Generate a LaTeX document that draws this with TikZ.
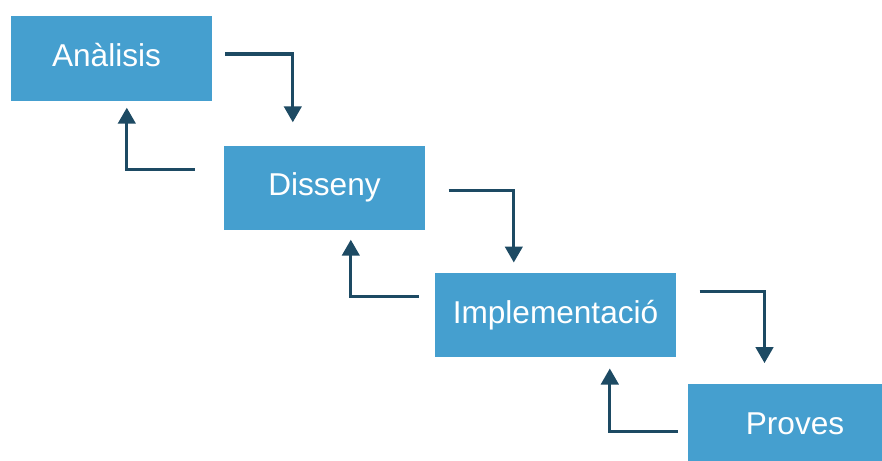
\documentclass[tikz,border=0pt]{standalone}
\usepackage{fontspec}
\setmainfont{Liberation Sans}
\usetikzlibrary{arrows.meta}
\usetikzlibrary{positioning}

\definecolor{fase}{RGB}{69,159,207}
\definecolor{fletxa}{RGB}{29,74,99}

\begin{document}
\begin{tikzpicture}[x=1pt,y=1pt,
        fasebox/.style={rectangle,fill=fase,text=white,inner sep=0pt,
            minimum width=201pt,minimum height=84pt,
            font=\fontsize{31.6}{36}\selectfont,text height=23pt,text depth=7pt},
        flux/.style={draw=fletxa,line width=3pt,
            arrows = -{Triangle[width=17.5pt,length=16pt,fill=fletxa]}}]

            % \draw [help lines] (0,0) grid (882,-460);
            \useasboundingbox (0,0) rectangle (882,-460);

            \path   (111.5,-58.5) node (an) [fasebox] {\hspace*{-10pt}Anàlisis}
                    (324.5,-187.5) node (di) [fasebox] {Disseny}
                    (555.5,-315) node (im) [fasebox,minimum width=241pt] {Implementació}
                    (795,-426) node (pr) [fasebox,minimum width=214pt] {Proves};

            \draw[flux] ([xshift=13pt,yshift=4.5pt]an.east) -| ([xshift=69pt,yshift=23pt]di.north west);
            \draw[flux] ([xshift=-29pt,yshift=18.5pt]di.west) -| ([xshift=116pt,yshift=-7pt]an.south west);

            \draw[flux] ([xshift=23.5pt,yshift=-2.8pt]di.east) -| ([xshift=79pt,yshift=10.3pt]im.north west);
            \draw[flux] ([xshift=-16pt,yshift=18.3pt]im.west) -| ([xshift=127pt,yshift=-10pt]di.south west);

            \draw[flux] ([xshift=23.3pt,yshift=23.3pt]im.east) -| ([xshift=76.7pt,yshift=20.7pt]pr.north west);
            \draw[flux] ([xshift=-10.3pt,yshift=-5pt]pr.west) -| ([xshift=175pt,yshift=-11.3pt]im.south west);
        \end{tikzpicture}
\end{document}
